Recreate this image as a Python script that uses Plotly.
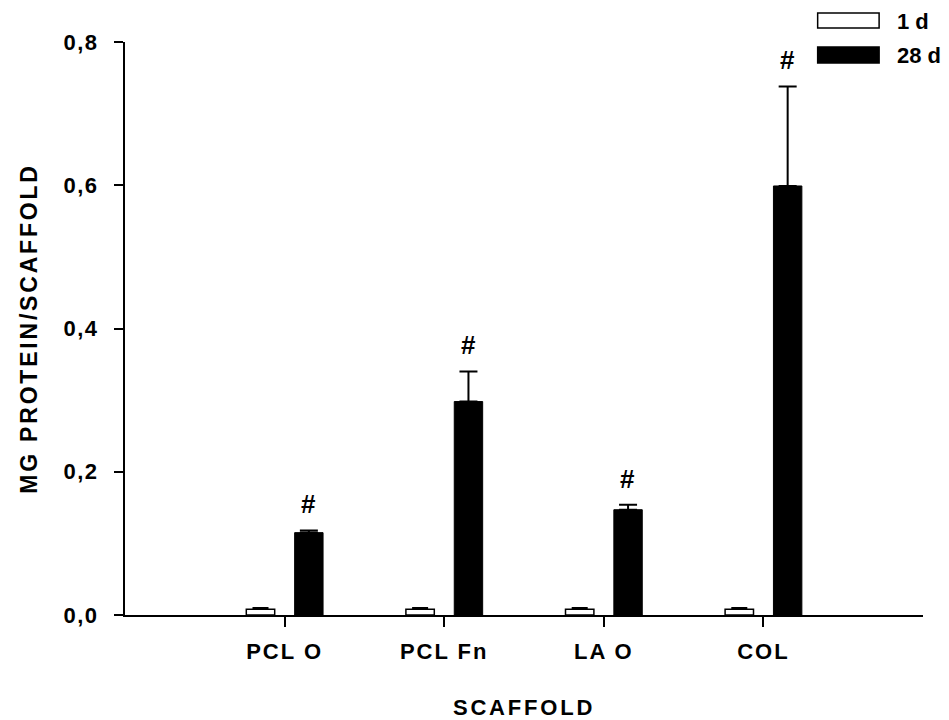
import plotly.graph_objects as go

categories = ["PCL O", "PCL Fn", "LA O", "COL"]
day1_values = [0.008, 0.008, 0.008, 0.008]
day1_errors = [0.002, 0.002, 0.002, 0.002]
day28_values = [0.115, 0.298, 0.147, 0.599]
day28_errors = [0.003, 0.042, 0.007, 0.139]
marks = ["#", "#", "#", "#"]
y_ticks = [0.0, 0.2, 0.4, 0.6, 0.8]

FONT = "Liberation Sans, Arial, sans-serif"

fig = go.Figure()
fig.add_trace(go.Bar(
    name="1 d", x=categories, y=day1_values,
    width=0.178, offset=-0.24,
    marker=dict(color="white", line=dict(color="black", width=1.5)),
    error_y=dict(type="data", symmetric=False, array=day1_errors,
                 arrayminus=[0] * len(day1_errors),
                 color="black", thickness=1.5, width=8),
    showlegend=False,
))
fig.add_trace(go.Bar(
    name="28 d", x=categories, y=day28_values,
    width=0.178, offset=0.063,
    marker=dict(color="black", line=dict(color="black", width=1)),
    error_y=dict(type="data", symmetric=False, array=day28_errors,
                 arrayminus=[0] * len(day28_errors),
                 color="black", thickness=2, width=9),
    showlegend=False,
))

# significance marks above 28 d bars
for c, v, e, m in zip(categories, day28_values, day28_errors, marks):
    fig.add_annotation(
        x=c, y=v + e, xref="x", yref="y", text=m, showarrow=False,
        xshift=24, yshift=26, yanchor="middle",
        font=dict(family=FONT, size=26, color="black", weight="bold"),
    )

# manual legend (wide rectangles)
legend_items = [("1 d", "white", 1.0244, 1.0506, 1.0366),
                ("28 d", "black", 0.9634, 0.9913, 0.9773)]
for label, fill, y0, y1, yt in legend_items:
    fig.add_shape(type="rect", xref="paper", yref="paper",
                  x0=0.868, x1=0.945, y0=y0, y1=y1,
                  fillcolor=fill, line=dict(color="black", width=1.5))
    fig.add_annotation(x=0.965, y=yt, xref="paper", yref="paper",
                       text=label, showarrow=False, xanchor="left",
                       yanchor="middle",
                       font=dict(family=FONT, size=22, color="black",
                                 weight="bold"))

fig.update_layout(
    width=949, height=720,
    margin=dict(l=125, r=26, t=42, b=105),
    paper_bgcolor="white", plot_bgcolor="white",
    separators=",.",
    barmode="overlay",
    font=dict(family=FONT, color="black", weight="bold"),
    showlegend=False,
)
fig.update_xaxes(
    type="category", range=[-1, 4],
    showline=True, linecolor="black", linewidth=2,
    ticks="outside", ticklen=10, tickwidth=1.5, tickcolor="black",
    showgrid=False, zeroline=False,
    ticklabelstandoff=6,
    tickfont=dict(family=FONT, size=22, color="black", weight="bold"),
    title=dict(text="SCAFFOLD", standoff=36,
               font=dict(family=FONT, size=22, color="black", weight="bold")),
    automargin=False,
)
fig.update_yaxes(
    range=[0, 0.8], tickvals=y_ticks, tickformat=".1f",
    showline=True, linecolor="black", linewidth=2,
    ticks="outside", ticklen=9, tickwidth=1.5, tickcolor="black",
    showgrid=False, zeroline=False,
    ticklabelstandoff=11,
    tickfont=dict(family=FONT, size=22, color="black", weight="bold"),
    title=dict(text="MG PROTEIN/SCAFFOLD", standoff=24,
               font=dict(family=FONT, size=23, color="black", weight="bold")),
    automargin=False,
)

css = ("body{margin:0;overflow:hidden}"
       ".xtick text{letter-spacing:2px}"
       ".ytick text{letter-spacing:1.5px}"
       ".xtitle,.ytitle{letter-spacing:2.8px}")
post = ("var s=document.createElement('style');s.textContent='" + css +
        "';document.head.appendChild(s);")

fig.write_html("out.html", post_script=post,
               config={"displayModeBar": False})
